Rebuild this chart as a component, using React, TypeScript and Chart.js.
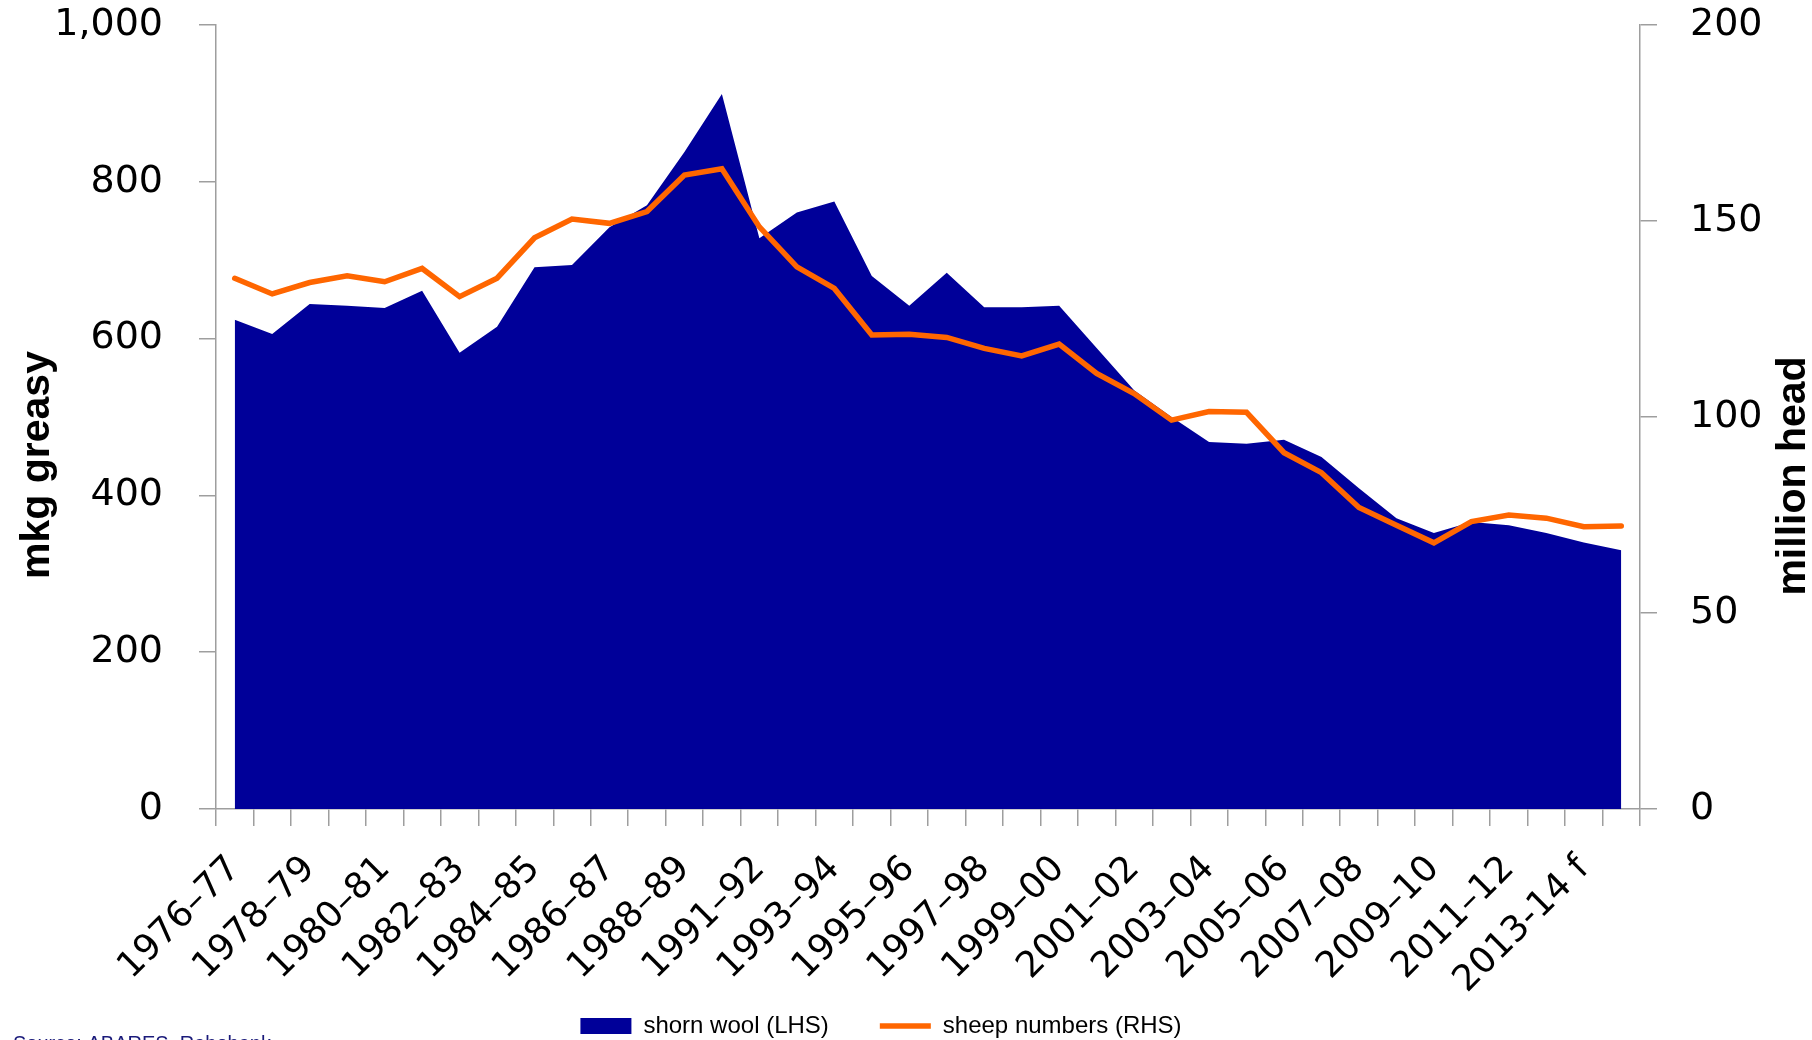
import React, { useEffect, useRef } from 'react';
import { Chart, registerables } from 'chart.js';

Chart.register(...registerables);

const categories = [
  '1976–77', '1977–78', '1978–79', '1979–80', '1980–81', '1981–82', '1982–83', '1983–84',
  '1984–85', '1985–86', '1986–87', '1987–88', '1988–89', '1989–90', '1991–92', '1992–93',
  '1993–94', '1994–95', '1995–96', '1996–97', '1997–98', '1998–99', '1999–00', '2000–01',
  '2001–02', '2002–03', '2003–04', '2004–05', '2005–06', '2006–07', '2007–08', '2008–09',
  '2009–10', '2010–11', '2011–12', '2012–13', '2013-14 f', '2014-15 f',
];

// shorn wool, mkg greasy (left axis)
const shornWool = [
  624, 606, 644, 642, 639, 661, 582, 615, 691, 694, 742, 770, 838, 912, 728, 761,
  775, 680, 642, 684, 640, 640, 642, 588, 534, 500, 468, 466, 471, 449, 409, 371,
  352, 366, 362, 352, 340, 330,
];

// sheep numbers, million head (right axis)
const sheepNumbers = [
  135.4, 131.4, 134.3, 136.0, 134.5, 137.9, 130.7, 135.4, 145.7, 150.5, 149.4, 152.4,
  161.7, 163.3, 148.5, 138.3, 132.8, 120.9, 121.1, 120.3, 117.5, 115.6, 118.6, 111.1,
  106.0, 99.2, 101.4, 101.2, 90.9, 85.8, 76.9, 72.4, 67.9, 73.3, 75.0, 74.2, 72.0, 72.2,
];

const leftTitle = 'mkg greasy';
const rightTitle = 'million head';
const sourceText = 'Source: ABARES, Rabobank';

const TICK_FONT = "'DejaVu Sans', Verdana, sans-serif";
const TEXT_FONT = "'Liberation Sans', Arial, sans-serif";
const AXIS_GREY = '#9e9e9e';

const titlesPlugin = {
  id: 'customTitles',
  afterDraw(chart: any) {
    const { ctx, chartArea } = chart;
    ctx.save();
    ctx.fillStyle = '#000';
    ctx.font = `bold 41px ${TEXT_FONT}`;
    ctx.textAlign = 'center';
    ctx.textBaseline = 'alphabetic';

    ctx.save();
    ctx.translate(chartArea.left - 167, 465);
    ctx.rotate(-Math.PI / 2);
    ctx.fillText(leftTitle, 0, 0);
    ctx.restore();

    ctx.save();
    ctx.translate(chartArea.right + 165, 476);
    ctx.rotate(-Math.PI / 2);
    ctx.fillText(rightTitle, 0, 0);
    ctx.restore();

    ctx.font = `20px ${TEXT_FONT}`;
    ctx.fillStyle = '#1a1a7a';
    ctx.textAlign = 'left';
    ctx.textBaseline = 'top';
    ctx.fillText(sourceText, 13, 1034);
    ctx.restore();
  },
};

const noLabelClip = (s: any) => {
  s._computeLabelArea = () => undefined;
};

export default function App() {
  const ref = useRef<HTMLCanvasElement>(null);

  useEffect(() => {
    document.body.style.margin = '0';
    document.body.style.overflow = 'hidden';
    const canvas = ref.current;
    if (!canvas) return;

    const chart = new Chart(canvas, {
      type: 'line',
      data: {
        labels: categories,
        datasets: [
          {
            label: 'shorn wool (LHS)',
            data: shornWool,
            yAxisID: 'y',
            fill: 'origin',
            backgroundColor: '#000099',
            borderColor: '#000099',
            borderWidth: 0,
            pointRadius: 0,
            pointStyle: 'rect',
            tension: 0,
            order: 2,
          },
          {
            label: 'sheep numbers (RHS)',
            data: sheepNumbers,
            yAxisID: 'y1',
            fill: false,
            borderColor: '#FF6600',
            backgroundColor: '#FF6600',
            borderWidth: 5.5,
            borderJoinStyle: 'miter',
            borderCapStyle: 'round',
            pointRadius: 0,
            pointStyle: 'line',
            tension: 0,
            order: 1,
          },
        ],
      },
      options: {
        responsive: false,
        animation: false,
        devicePixelRatio: 1,
        layout: { padding: { top: 25, left: 0, right: 50, bottom: 0 } },
        plugins: {
          tooltip: { enabled: false },
          legend: {
            position: 'bottom',
            labels: {
              usePointStyle: true,
              pointStyleWidth: 51,
              boxHeight: 16,
              padding: 51,
              color: '#000',
              font: { family: TEXT_FONT, size: 24 },
              sort: (a: any, b: any) => a.datasetIndex - b.datasetIndex,
            },
          },
        },
        scales: {
          x: {
            type: 'category',
            offset: true,
            grid: {
              offset: true,
              drawOnChartArea: false,
              drawTicks: true,
              tickLength: 17,
              color: AXIS_GREY,
              lineWidth: 1.5,
            },
            border: { display: true, color: AXIS_GREY, width: 1.5 },
            ticks: {
              autoSkip: false,
              maxRotation: 45,
              minRotation: 45,
              padding: 22,
              color: '#000',
              font: { family: TICK_FONT, size: 36 },
              callback: (_v: any, i: number) => (i % 2 === 0 ? categories[i] : ''),
            },
            afterFit: (s: any) => {
              s.height = 154;
              noLabelClip(s);
            },
          },
          y: {
            position: 'left',
            min: 0,
            max: 1000,
            grid: {
              drawOnChartArea: false,
              tickLength: 17,
              color: AXIS_GREY,
              lineWidth: 1.5,
            },
            border: { display: true, color: AXIS_GREY, width: 1.5 },
            ticks: {
              stepSize: 200,
              padding: 36,
              color: '#000',
              font: { family: TICK_FONT, size: 38 },
              callback: (v: any) => Number(v).toLocaleString('en-US'),
            },
            afterFit: (s: any) => {
              s.width = 216;
              s.paddingTop = 20;
              s.paddingBottom = 20;
              noLabelClip(s);
            },
          },
          y1: {
            position: 'right',
            min: 0,
            max: 200,
            grid: {
              drawOnChartArea: false,
              tickLength: 17,
              color: AXIS_GREY,
              lineWidth: 1.5,
            },
            border: { display: true, color: AXIS_GREY, width: 1.5 },
            ticks: {
              stepSize: 50,
              padding: 33,
              color: '#000',
              font: { family: TICK_FONT, size: 38 },
            },
            afterFit: (s: any) => {
              s.width = 122;
              s.paddingTop = 20;
              s.paddingBottom = 20;
              noLabelClip(s);
            },
          },
        },
      },
      plugins: [titlesPlugin],
    } as any);

    return () => chart.destroy();
  }, []);

  return (
    <div style={{ width: 1812, height: 1040, overflow: 'hidden', position: 'relative', background: '#fff' }}>
      <canvas ref={ref} width={1812} height={1048} style={{ display: 'block' }} />
    </div>
  );
}
